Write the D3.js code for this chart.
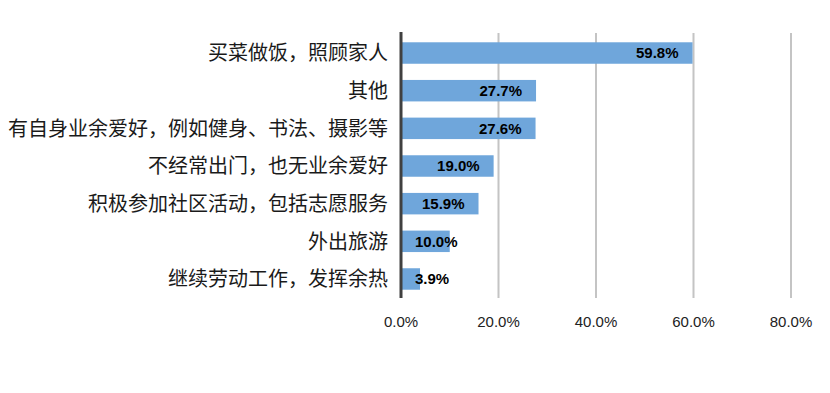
<!DOCTYPE html>
<html>
<head>
<meta charset="utf-8">
<script src="https://cdn.jsdelivr.net/npm/d3@7"></script>
<style>
  body { margin: 0; background: #fff; }
</style>
</head>
<body>
<div id="chart"></div>
<script>
// categories, top to bottom
const categories = [
  "买菜做饭，照顾家人",
  "其他",
  "有自身业余爱好，例如健身、书法、摄影等",
  "不经常出门，也无业余爱好",
  "积极参加社区活动，包括志愿服务",
  "外出旅游",
  "继续劳动工作，发挥余热"
];
const values = [59.8, 27.7, 27.6, 19.0, 15.9, 10.0, 3.9];
const ticks = [0, 20, 40, 60, 80];

const width = 830, height = 393;
const margin = { left: 401, right: 39, top: 34, bottom: 95 };

const svg = d3.select("#chart").append("svg")
  .attr("width", width)
  .attr("height", height);

const x = d3.scaleLinear().domain([0, 80]).range([margin.left, width - margin.right]);
const y = d3.scaleBand().domain(categories)
  .range([margin.top, height - margin.bottom])
  .paddingInner(0.43).paddingOuter(0.22);

// gridlines
svg.append("g")
  .selectAll("line")
  .data(ticks.slice(1))
  .enter().append("line")
  .attr("x1", d => x(d)).attr("x2", d => x(d))
  .attr("y1", margin.top - 1).attr("y2", height - margin.bottom)
  .attr("stroke", "#c4c4c4")
  .attr("stroke-width", 2);

// bars
svg.append("g")
  .selectAll("rect")
  .data(values)
  .enter().append("rect")
  .attr("x", x(0))
  .attr("y", (d, i) => y(categories[i]))
  .attr("width", d => x(d) - x(0))
  .attr("height", y.bandwidth())
  .attr("fill", "#6fa6db");

// axis line
svg.append("line")
  .attr("x1", x(0)).attr("x2", x(0))
  .attr("y1", margin.top - 2).attr("y2", height - margin.bottom)
  .attr("stroke", "#404040")
  .attr("stroke-width", 3);

// value labels (inside end, pushed right when bar is short)
const labels = svg.append("g")
  .selectAll("text")
  .data(values)
  .enter().append("text")
  .attr("y", (d, i) => y(categories[i]) + y.bandwidth() / 2)
  .attr("dy", "0.36em")
  .attr("text-anchor", "end")
  .attr("font-family", "Liberation Sans, Arial, sans-serif")
  .attr("font-weight", "bold")
  .attr("font-size", 15)
  .attr("fill", "#000")
  .text(d => d.toFixed(1) + "%");
labels.attr("x", function(d) {
  const w = this.getComputedTextLength();
  return Math.max(x(d) - 14, x(0) + 14 + w);
});

// category labels
svg.append("g")
  .selectAll("text")
  .data(categories)
  .enter().append("text")
  .attr("x", x(0) - 13)
  .attr("y", d => y(d) + y.bandwidth() / 2)
  .attr("dy", "0.36em")
  .attr("text-anchor", "end")
  .attr("font-family", "Noto Sans CJK SC, sans-serif")
  .attr("font-size", 20)
  .attr("fill", "#1a1a1a")
  .text(d => d);

// x tick labels
svg.append("g")
  .selectAll("text")
  .data(ticks)
  .enter().append("text")
  .attr("x", d => x(d))
  .attr("y", 322)
  .attr("dy", "0.36em")
  .attr("text-anchor", "middle")
  .attr("font-family", "Liberation Sans, Arial, sans-serif")
  .attr("font-size", 15)
  .attr("fill", "#222")
  .text(d => d.toFixed(1) + "%");
</script>
</body>
</html>
